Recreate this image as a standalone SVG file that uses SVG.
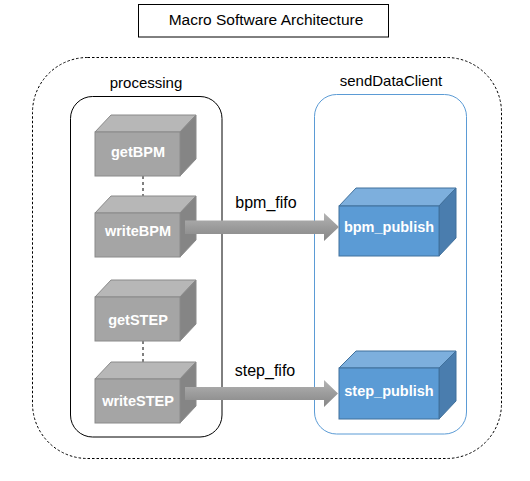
<svg xmlns="http://www.w3.org/2000/svg" width="530" height="481" viewBox="0 0 530 481">
  <defs>
    <linearGradient id="arrowGrad" x1="0" y1="0" x2="0" y2="1">
      <stop offset="0" stop-color="#B4B4B4"/>
      <stop offset="0.5" stop-color="#9C9C9C"/>
      <stop offset="1" stop-color="#868686"/>
    </linearGradient>
  </defs>
  <style>
    .txt { font-family: "Liberation Sans", Arial, sans-serif; fill: #000000; }
    .cubetxt { font-family: "Liberation Sans", Arial, sans-serif; font-weight: bold; font-size: 14.5px; fill: #FFFFFF; text-anchor: middle; }
    .gfront { fill: #A5A5A5; stroke: #8A8A8A; stroke-width: 1; }
    .gtop { fill: #B7B7B7; stroke: #8A8A8A; stroke-width: 1; }
    .gright { fill: #858585; stroke: #8A8A8A; stroke-width: 1; }
    .bfront { fill: #5B9BD5; stroke: #41719C; stroke-width: 1; }
    .btop { fill: #7DAFDD; stroke: #41719C; stroke-width: 1; }
    .bright { fill: #4A7DAE; stroke: #41719C; stroke-width: 1; }
    .arrow { fill: url(#arrowGrad); stroke: none; }
    .dash { stroke: #000000; stroke-width: 1; stroke-dasharray: 3 3; fill: none; }
  </style>

  <!-- title -->
  <g id="title">
    <rect x="138.5" y="4.5" width="250" height="32.5" fill="#FFFFFF" stroke="#000000" stroke-width="1"/>
    <text class="txt" x="266" y="25" font-size="15.5" text-anchor="middle">Macro Software Architecture</text>
  </g>

  <!-- outer dashed container -->
  <g id="system">
    <rect x="32.5" y="57.5" width="469" height="401" rx="55" ry="55" fill="none" stroke="#000000" stroke-width="1" stroke-dasharray="2.5 2"/>
  </g>

  <!-- processing container -->
  <g id="processing">
    <rect x="70.5" y="96.5" width="151.5" height="340.5" rx="22" ry="22" fill="#FFFFFF" stroke="#000000" stroke-width="1"/>
    <text class="txt" x="146" y="88" font-size="15" text-anchor="middle">processing</text>
  </g>

  <!-- sendDataClient container -->
  <g id="sendDataClient">
    <rect x="314.5" y="94.5" width="152" height="339.5" rx="22" ry="22" fill="#FFFFFF" stroke="#5B9BD5" stroke-width="1"/>
    <text class="txt" x="391" y="86" font-size="15" text-anchor="middle">sendDataClient</text>
  </g>

  <!-- connectors -->
  <g id="connectors">
    <line class="dash" x1="143" y1="176" x2="143" y2="196"/>
    <line class="dash" x1="143" y1="341" x2="143" y2="362"/>
  </g>

  <!-- gray cubes -->
  <g id="getBPM">
    <polygon class="gtop" points="95,132 111,115 196,115 180,132"/>
    <polygon class="gright" points="180,132 196,115 196,159 180,176"/>
    <rect class="gfront" x="95" y="132" width="85" height="44"/>
    <text class="cubetxt" x="138" y="157">getBPM</text>
  </g>
  <g id="writeBPM">
    <polygon class="gtop" points="95,213 111,196 196,196 180,213"/>
    <polygon class="gright" points="180,213 196,196 196,240 180,257"/>
    <rect class="gfront" x="95" y="213" width="85" height="44"/>
    <text class="cubetxt" x="138" y="236">writeBPM</text>
  </g>
  <g id="getSTEP">
    <polygon class="gtop" points="95,297 111,280 196,280 180,297"/>
    <polygon class="gright" points="180,297 196,280 196,324 180,341"/>
    <rect class="gfront" x="95" y="297" width="85" height="44"/>
    <text class="cubetxt" x="138" y="325">getSTEP</text>
  </g>
  <g id="writeSTEP">
    <polygon class="gtop" points="95,379 111,362 196,362 180,379"/>
    <polygon class="gright" points="180,379 196,362 196,406 180,423"/>
    <rect class="gfront" x="95" y="379" width="85" height="44"/>
    <text class="cubetxt" x="138" y="406">writeSTEP</text>
  </g>

  <!-- blue cubes -->
  <g id="bpm_publish">
    <polygon class="btop" points="339,206 356,188 456,188 439,206"/>
    <polygon class="bright" points="439,206 456,188 456,238 439,256"/>
    <rect class="bfront" x="339" y="206" width="100" height="50"/>
    <text class="cubetxt" x="389" y="232">bpm_publish</text>
  </g>
  <g id="step_publish">
    <polygon class="btop" points="339,368 356,351 456,351 439,368"/>
    <polygon class="bright" points="439,368 456,351 456,401 439,419"/>
    <rect class="bfront" x="339" y="368" width="100" height="51"/>
    <text class="cubetxt" x="389" y="396">step_publish</text>
  </g>

  <!-- fifo arrows -->
  <g id="bpm_fifo">
    <polygon class="arrow" points="185,220.5 324,220.5 324,213 339,227 324,241 324,234 185,234"/>
    <text class="txt" x="266" y="207.5" font-size="16" text-anchor="middle">bpm_fifo</text>
  </g>
  <g id="step_fifo">
    <polygon class="arrow" points="185,387 324,387 324,380 338,393.5 324,407 324,400 185,400"/>
    <text class="txt" x="265" y="376" font-size="16" text-anchor="middle">step_fifo</text>
  </g>
</svg>
